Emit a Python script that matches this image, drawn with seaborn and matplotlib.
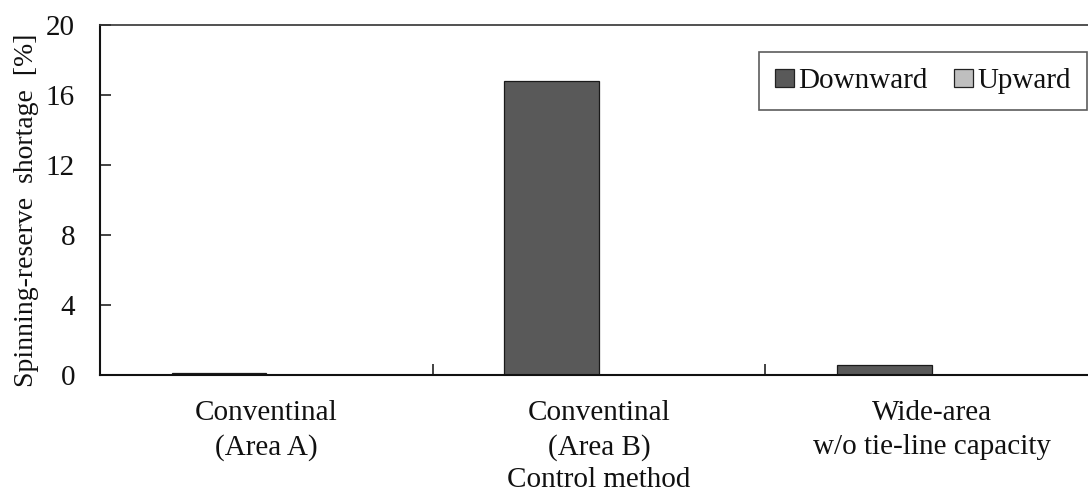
import matplotlib
matplotlib.use("Agg")
import matplotlib.pyplot as plt
import seaborn as sns
import pandas as pd
from matplotlib.patches import Patch

# Data
methods = ["Conventinal\n(Area A)", "Conventinal\n(Area B)", "Wide-area\nw/o tie-line capacity"]
downward = [0.12, 16.8, 0.6]
upward = [0.0, 0.0, 0.0]
series = ["Downward", "Upward"]
colors = ["#595959", "#bfbfbf"]
y_ticks = [0, 4, 8, 12, 16, 20]

df = pd.DataFrame({
    "method": methods * 2,
    "value": downward + upward,
    "direction": [series[0]] * 3 + [series[1]] * 3,
})

sns.set_theme(style="white")
plt.rcParams["font.family"] = ["Liberation Serif", "DejaVu Serif"]
FS = 21
plt.rcParams["font.size"] = FS

fig = plt.figure(figsize=(10.88, 4.94), dpi=100)
W, H = 1088, 494
ax = fig.add_axes([100 / W, 1 - 375 / H, (1098 - 100) / W, (375 - 25) / H])

sns.barplot(data=df, x="method", y="value", hue="direction", hue_order=series,
            palette=colors, width=0.57, ax=ax, edgecolor="#1a1a1a", linewidth=0.9,
            legend=False, errorbar=None)

ax.set_xlim(-0.5, 2.5)
ax.set_ylim(0, 20)
ax.set_yticks(y_ticks)
ax.set_yticklabels([str(t) for t in y_ticks], fontsize=FS, color="#111111")
ax.tick_params(axis="y", left=True, direction="in", length=8, width=1.2,
               color="#222222", pad=18)
ax.tick_params(axis="x", which="major", bottom=True, length=0, pad=18,
               labelsize=FS, labelcolor="#111111")
for lbl in ax.get_xticklabels():
    lbl.set_linespacing(1.4)
ax.set_xticks([0.5, 1.5], minor=True)
ax.tick_params(axis="x", which="minor", bottom=True, direction="in", length=8,
               width=1.2, color="#222222")

for side in ["left", "bottom", "top"]:
    ax.spines[side].set_visible(True)
    ax.spines[side].set_color("#111111")
    ax.spines[side].set_linewidth(1.5)
ax.spines["right"].set_visible(False)
ax.spines["top"].set_color("#333333")
ax.spines["top"].set_linewidth(1.2)

ax.set_xlabel("Control method", fontsize=FS, labelpad=4, color="#111111")
ax.set_ylabel("Spinning-reserve  shortage  [%]", fontsize=20, labelpad=5, color="#111111")
ax.yaxis.label.set_y(0.471)

handles = [Patch(facecolor=c, edgecolor="#222222", linewidth=0.9) for c in colors]
leg = fig.legend(handles, series, ncol=2, loc="upper right",
                 bbox_to_anchor=(1087 / W, 1 - 52 / H), frameon=True, fancybox=False,
                 edgecolor="#333333", fontsize=FS, handlelength=0.65, handleheight=0.55,
                 handletextpad=0.15, columnspacing=0.9, borderpad=0.55, borderaxespad=0)
leg.get_frame().set_linewidth(1.2)
for t in leg.get_texts():
    t.set_color("#111111")

fig.savefig("out.png", dpi=100)
